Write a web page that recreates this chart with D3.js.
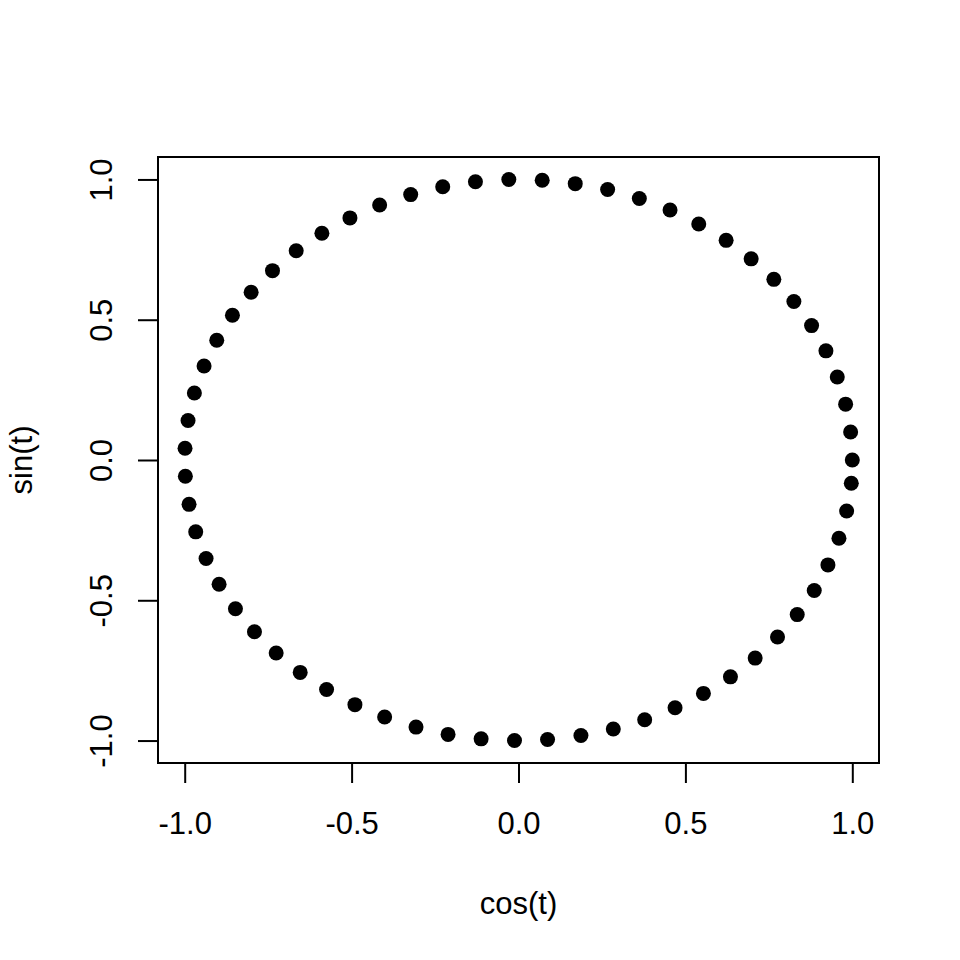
<!DOCTYPE html>
<html>
<head>
<meta charset="utf-8">
<script src="https://cdn.jsdelivr.net/npm/d3@7"></script>
<style>
html,body{margin:0;padding:0;background:#fff;}
text{font-family:"Liberation Sans", Arial, sans-serif;}
</style>
</head>
<body>
<svg id="chart" width="960" height="960"></svg>
<script>
// t = 0, 0.1, ..., 6.2
const tValues = [0.0,0.1,0.2,0.3,0.4,0.5,0.6,0.7,0.8,0.9,1.0,1.1,1.2,1.3,1.4,1.5,1.6,1.7,1.8,1.9,2.0,2.1,2.2,2.3,2.4,2.5,2.6,2.7,2.8,2.9,3.0,3.1,3.2,3.3,3.4,3.5,3.6,3.7,3.8,3.9,4.0,4.1,4.2,4.3,4.4,4.5,4.6,4.7,4.8,4.9,5.0,5.1,5.2,5.3,5.4,5.5,5.6,5.7,5.8,5.9,6.0,6.1,6.2];
const cosValues = [1.000,0.995,0.980,0.955,0.921,0.878,0.825,0.765,0.697,0.622,0.540,0.454,0.362,0.267,0.170,0.071,-0.029,-0.129,-0.227,-0.323,-0.416,-0.505,-0.589,-0.666,-0.737,-0.801,-0.857,-0.904,-0.942,-0.971,-0.990,-0.999,-0.998,-0.987,-0.967,-0.936,-0.897,-0.848,-0.791,-0.726,-0.654,-0.575,-0.490,-0.401,-0.307,-0.211,-0.112,-0.012,0.087,0.187,0.284,0.378,0.469,0.554,0.635,0.709,0.776,0.835,0.886,0.927,0.960,0.983,0.997];
const sinValues = [0.000,0.100,0.199,0.296,0.389,0.479,0.565,0.644,0.717,0.783,0.841,0.891,0.932,0.964,0.985,0.997,1.000,0.992,0.974,0.946,0.909,0.863,0.808,0.746,0.675,0.598,0.516,0.427,0.335,0.239,0.141,0.042,-0.058,-0.158,-0.256,-0.351,-0.443,-0.530,-0.612,-0.688,-0.757,-0.818,-0.872,-0.916,-0.952,-0.978,-0.994,-1.000,-0.996,-0.982,-0.959,-0.926,-0.883,-0.832,-0.773,-0.706,-0.631,-0.551,-0.465,-0.374,-0.279,-0.182,-0.083];
const xTicks = [-1.0,-0.5,0.0,0.5,1.0];
const yTicks = [-1.0,-0.5,0.0,0.5,1.0];
const tickLabels = ["-1.0","-0.5","0.0","0.5","1.0"];
const xLabel = "cos(t)";
const yLabel = "sin(t)";

(function(){
const svg = d3.select("#chart");
const pL = 158, pR = 879, pT = 157, pB = 763;
const x = d3.scaleLinear().domain([-1.08, 1.08]).range([pL, pR]);
const y = d3.scaleLinear().domain([-1.08, 1.08]).range([pB, pT]);
const fmt = (d) => tickLabels[xTicks.indexOf(d)];
const fs = 31;

// points
svg.append("g").selectAll("circle")
  .data(tValues.map((t,i)=>({t, cx: cosValues[i], sy: sinValues[i]})))
  .join("circle")
  .attr("cx", d => x(d.cx))
  .attr("cy", d => y(d.sy))
  .attr("r", 7.5)
  .attr("fill", "#000");

// box
svg.append("rect")
  .attr("x", pL).attr("y", pT)
  .attr("width", pR-pL).attr("height", pB-pT)
  .attr("fill", "none").attr("stroke", "#000").attr("stroke-width", 2);

// x axis
const xAxis = d3.axisBottom(x).tickValues(xTicks).tickFormat(fmt).tickSize(20).tickPadding(14);
const gx = svg.append("g").attr("transform", `translate(0,${pB})`).call(xAxis);
gx.select(".domain").attr("d", `M${x(-1)},0H${x(1)}`).attr("stroke-width", 2);
gx.selectAll(".tick line").attr("stroke-width", 2);
gx.selectAll(".tick text").attr("font-size", fs).attr("font-family", "Liberation Sans, Arial, sans-serif").attr("fill","#000")
  .attr("y", 71).attr("dy", null);

// y axis
const yAxis = d3.axisLeft(y).tickValues(yTicks).tickFormat(fmt).tickSize(20).tickPadding(14);
const gy = svg.append("g").attr("transform", `translate(${pL},0)`).call(yAxis);
gy.select(".domain").attr("d", `M0,${y(-1)}V${y(1)}`).attr("stroke-width", 2);
gy.selectAll(".tick line").attr("stroke-width", 2);
gy.selectAll(".tick text")
  .attr("font-size", fs).attr("font-family", "Liberation Sans, Arial, sans-serif").attr("fill","#000")
  .attr("x", null).attr("dy", null)
  .attr("text-anchor", "middle")
  .attr("transform", "translate(-46,0) rotate(-90)");

// axis titles
svg.append("text").attr("x", (pL+pR)/2).attr("y", 914)
  .attr("text-anchor", "middle").attr("font-size", fs).text(xLabel);
svg.append("text").attr("transform", `translate(32,${(pT+pB)/2}) rotate(-90)`)
  .attr("text-anchor", "middle").attr("font-size", fs).text(yLabel);
})();
</script>
</body>
</html>
